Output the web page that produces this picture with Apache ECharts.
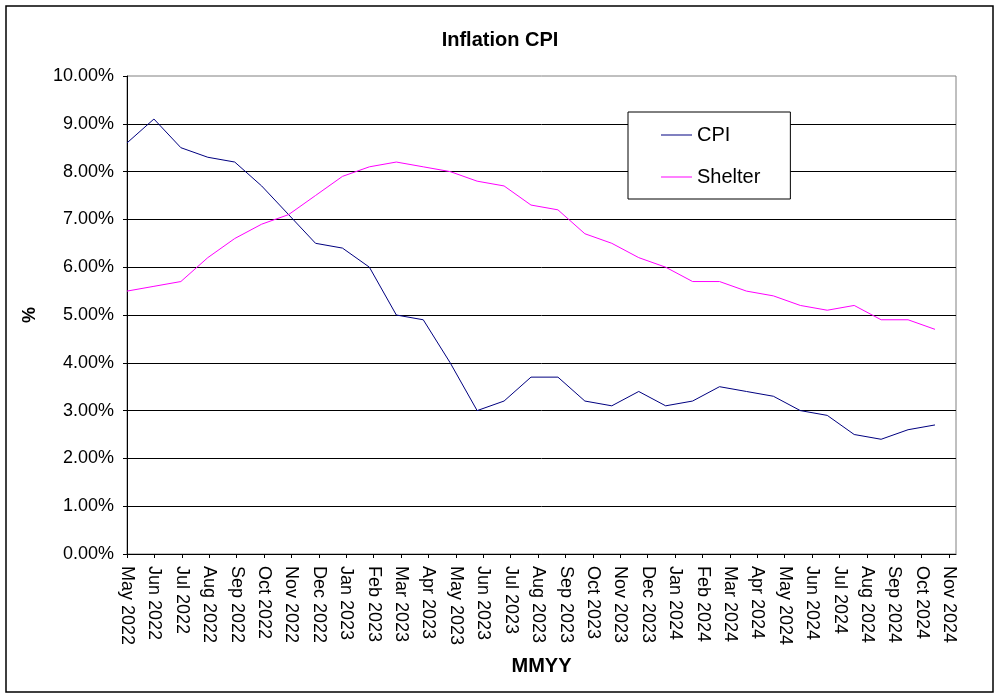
<!DOCTYPE html>
<html>
<head>
<meta charset="utf-8">
<script src="https://cdn.jsdelivr.net/npm/echarts@6/dist/echarts.min.js"></script>
<style>
  html, body { margin: 0; padding: 0; background: #fff; }
  #chart { width: 1000px; height: 699px; }
</style>
</head>
<body>
<div id="chart"></div>
<script>
const months = ['May 2022', 'Jun 2022', 'Jul 2022', 'Aug 2022', 'Sep 2022', 'Oct 2022', 'Nov 2022', 'Dec 2022',
  'Jan 2023', 'Feb 2023', 'Mar 2023', 'Apr 2023', 'May 2023', 'Jun 2023', 'Jul 2023', 'Aug 2023',
  'Sep 2023', 'Oct 2023', 'Nov 2023', 'Dec 2023', 'Jan 2024', 'Feb 2024', 'Mar 2024', 'Apr 2024',
  'May 2024', 'Jun 2024', 'Jul 2024', 'Aug 2024', 'Sep 2024', 'Oct 2024', 'Nov 2024']

const cpi = [8.6, 9.1, 8.5, 8.3, 8.2, 7.7, 7.1, 6.5, 6.4, 6.0, 5.0, 4.9, 4.0, 3.0, 3.2, 3.7,
  3.7, 3.2, 3.1, 3.4, 3.1, 3.2, 3.5, 3.4, 3.3, 3.0, 2.9, 2.5, 2.4, 2.6, 2.7]

const shelter = [5.5, 5.6, 5.7, 6.2, 6.6, 6.9, 7.1, 7.5, 7.9, 8.1, 8.2, 8.1, 8.0, 7.8, 7.7, 7.3,
  7.2, 6.7, 6.5, 6.2, 6.0, 5.7, 5.7, 5.5, 5.4, 5.2, 5.1, 5.2, 4.9, 4.9, 4.7]

const font = 'Liberation Sans, Arial, sans-serif'
const monthIdx = months.map((m, i) => i)

const chart = echarts.init(document.getElementById('chart'))

chart.setOption({
  backgroundColor: '#fff',
  animation: false,
  title: {
    text: 'Inflation CPI',
    left: 'center',
    top: 25,
    textStyle: { fontFamily: font, fontSize: 20, fontWeight: 'bold', color: '#000' }
  },
  legend: {
    orient: 'vertical',
    left: 628,
    top: 112,
    padding: [13, 30, 12, 33],
    itemGap: 22,
    itemWidth: 31,
    itemHeight: 1,
    icon: 'rect',
    borderColor: '#000',
    borderWidth: 1,
    backgroundColor: '#fff',
    textStyle: { fontFamily: font, fontSize: 20, color: '#000' },
    data: ['CPI', 'Shelter']
  },
  grid: {
    left: 127,
    top: 76,
    width: 829,
    height: 478,
    show: true,
    borderColor: '#808080',
    borderWidth: 1,
    backgroundColor: '#fff'
  },
  xAxis: [{
    // month labels sit on the ticks
    type: 'value',
    min: 0,
    max: 30.25,
    name: 'MMYY',
    nameLocation: 'middle',
    nameGap: 102,
    nameTextStyle: { fontFamily: font, fontSize: 20, fontWeight: 'bold', color: '#000' },
    axisLine: { show: true, lineStyle: { color: '#000', width: 1 } },
    axisTick: { show: true, length: 4, lineStyle: { color: '#000' }, customValues: monthIdx },
    axisLabel: {
      customValues: monthIdx,
      rotate: -90,
      margin: 12,
      fontFamily: font,
      fontSize: 18,
      color: '#000',
      formatter: v => months[v] || ''
    },
    splitLine: { show: false }
  }, {
    // data points are spaced slightly tighter than the month ticks
    type: 'value',
    min: 0,
    max: 30.78,
    show: false
  }],
  yAxis: {
    type: 'value',
    min: 0,
    max: 10,
    interval: 1,
    name: '%',
    nameLocation: 'middle',
    nameRotate: 90,
    nameGap: 88,
    nameTextStyle: { fontFamily: font, fontSize: 18, fontWeight: 'bold', color: '#000' },
    axisLine: { show: true, lineStyle: { color: '#000', width: 1 } },
    axisTick: { show: true, length: 4, lineStyle: { color: '#000' } },
    axisLabel: {
      margin: 13,
      fontFamily: font,
      fontSize: 18,
      color: '#000',
      formatter: v => v.toFixed(2) + '%'
    },
    splitLine: { show: true, showMaxLine: false, lineStyle: { color: '#000', width: 1 } }
  },
  series: [{
    name: 'CPI',
    type: 'line',
    xAxisIndex: 1,
    symbol: 'none',
    color: '#000080',
    lineStyle: { color: '#000080', width: 1 },
    data: cpi.map((v, i) => [i, v])
  }, {
    name: 'Shelter',
    type: 'line',
    xAxisIndex: 1,
    symbol: 'none',
    color: '#ff00ff',
    lineStyle: { color: '#ff00ff', width: 1 },
    data: shelter.map((v, i) => [i, v])
  }],
  graphic: [{
    type: 'rect',
    shape: { x: 6, y: 6, width: 987, height: 686 },
    style: { fill: null, stroke: '#000', lineWidth: 1.5 },
    silent: true
  }]
})
</script>
</body>
</html>
